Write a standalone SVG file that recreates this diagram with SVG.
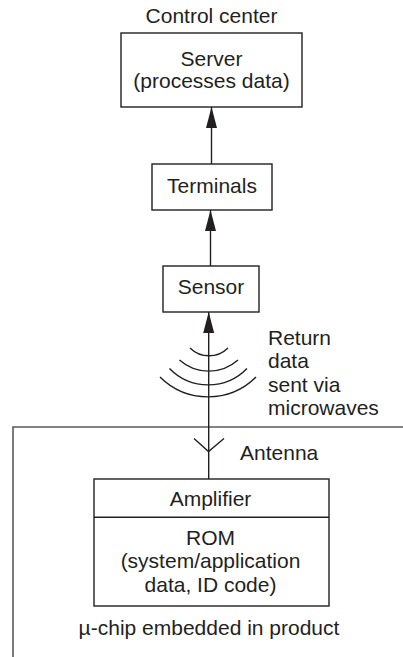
<svg xmlns="http://www.w3.org/2000/svg" width="403" height="657" viewBox="0 0 403 657">
<style>
  text { font-family: "Liberation Sans", Arial, sans-serif; font-size: 21px; fill: #231f20; }
  .c { text-anchor: middle; }
  .box { fill: #fff; stroke: #231f20; stroke-width: 1.4; }
  .ln { fill: none; stroke: #231f20; stroke-width: 1.4; }
  .bd { fill: none; stroke: #5a5a5a; stroke-width: 1.6; }
</style>
<defs>
  <marker id="ah" viewBox="0 0 21 11" refX="21" refY="5.5" markerWidth="21" markerHeight="11" markerUnits="userSpaceOnUse" orient="auto">
    <path d="M0,0 L21,5.5 L0,11 z" fill="#231f20"/>
  </marker>
</defs>
<rect width="403" height="657" fill="#fff"/>

<g id="boundary">
  <path class="bd" d="M13,657 L13,427 L403,427"/>
</g>

<g id="server">
  <text class="c" x="211.5" y="23">Control center</text>
  <rect class="box" x="121" y="33" width="181" height="74"/>
  <text class="c" x="211.5" y="65.5">Server</text>
  <text class="c" x="211.5" y="87.5">(processes data)</text>
</g>

<g id="terminals">
  <rect class="box" x="152" y="164" width="120" height="46"/>
  <text class="c" x="212" y="193">Terminals</text>
</g>

<g id="sensor">
  <rect class="box" x="163" y="266" width="96" height="46"/>
  <text class="c" x="211" y="294">Sensor</text>
</g>

<g id="waves">
  <path class="ln" d="M190,348 A27,27 0 0 0 228,348"/>
  <path class="ln" d="M179.5,360 A44,44 0 0 0 238,360"/>
  <path class="ln" d="M169.5,368.5 A54,54 0 0 0 247,368.5"/>
  <path class="ln" d="M160,377 A68,68 0 0 0 256,377"/>
  <text x="268" y="345">Return</text>
  <text x="268" y="368.3">data</text>
  <text x="268" y="391.6">sent via</text>
  <text x="268" y="415">microwaves</text>
</g>

<g id="antenna">
  <path class="ln" d="M194,438.5 L208.5,451.5 L224,438.5"/>
  <text x="240" y="460">Antenna</text>
</g>

<g id="chip">
  <rect class="box" x="94" y="479" width="235" height="127"/>
  <line class="ln" x1="94" y1="517.3" x2="329" y2="517.3"/>
  <text class="c" x="210.5" y="505.5">Amplifier</text>
  <text class="c" x="210.5" y="545">ROM</text>
  <text class="c" x="210.5" y="568.3">(system/application</text>
  <text class="c" x="210.5" y="591.7">data, ID code)</text>
  <text class="c" x="209" y="635">µ-chip embedded in product</text>
</g>

<g id="connectors">
  <line class="ln" x1="211.5" y1="164" x2="211.5" y2="107" marker-end="url(#ah)"/>
  <line class="ln" x1="210.5" y1="266" x2="210.5" y2="210" marker-end="url(#ah)"/>
  <line class="ln" x1="208.7" y1="479" x2="208.7" y2="312" marker-end="url(#ah)"/>
</g>
</svg>
